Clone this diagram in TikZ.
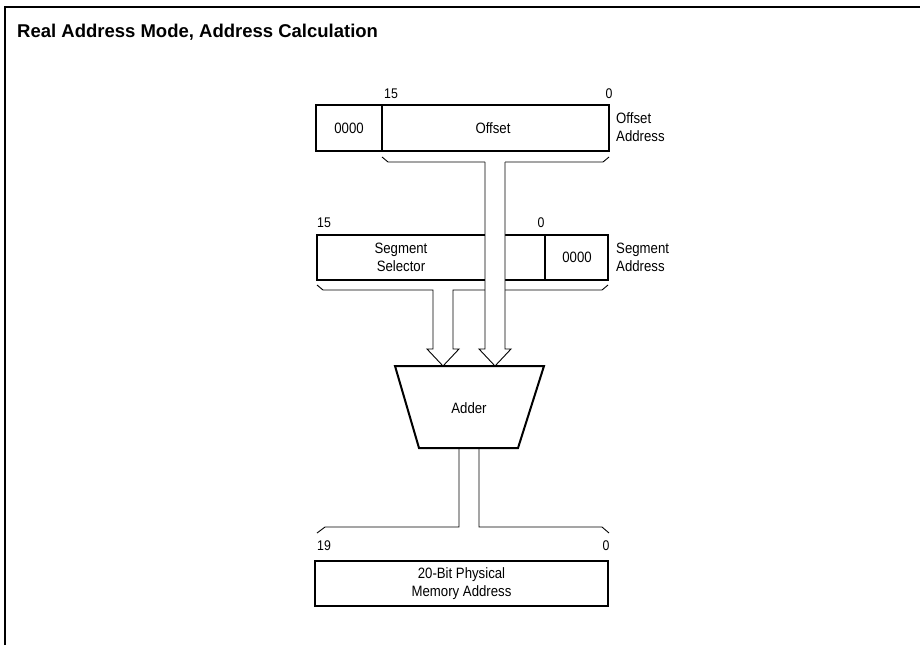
\documentclass[tikz,border=0pt]{standalone}
\usepackage{fontspec}
\setmainfont{Liberation Sans}
\newfontfamily\labfont{Liberation Sans}[FakeStretch=0.88]
\begin{document}
\begin{tikzpicture}[x=1pt,y=-1pt,
  reg/.style={draw,line width=1.8pt,minimum height=45pt,inner sep=0pt},
  lab/.style={font=\labfont\fontsize{15}{18}\selectfont,inner sep=0pt},
  bitlab/.style={font=\labfont\fontsize{14}{16}\selectfont,inner sep=0pt},
  thinline/.style={line width=0.9pt},
  thickline/.style={line width=1.8pt}]
\useasboundingbox (0,0) rectangle (920,645);
% frame
\draw[line width=1.4pt] (5,645) -- (5,7) -- (920,7);
\node[anchor=base west,inner sep=0pt,font=\fontsize{18.5}{22}\selectfont\bfseries] (title) at (17,37) {Real Address Mode, Address Calculation};

% offset register
\node[reg,minimum width=293pt,minimum height=46pt] (off) at (462.5,128) {};
\draw[thickline] (382,105) -- (382,151);
\node[lab] (off0) at (349,128) {0000};
\node[lab] (offt) at (493,128) {Offset};
\node[bitlab,anchor=base west] (b15a) at (384,98) {15};
\node[bitlab,anchor=base] (b0a) at (609,98) {0};
\node[lab,anchor=west,align=left] (offa) at (616,127) {Offset\\Address};
\draw[thinline] (382,157) -- (388,162) -- (485,162);
\draw[thinline] (505,162) -- (603,162) -- (609,157);

% segment register
\node[reg,minimum width=291pt] (seg) at (462.5,257.5) {};
\draw[thickline] (545,235) -- (545,280);
\node[lab,align=center] (segt) at (401,257.5) {Segment\\Selector};
\node[lab] (seg0) at (577,257.5) {0000};
\node[bitlab,anchor=base west] (b15b) at (317,227) {15};
\node[bitlab,anchor=base] (b0b) at (541,227) {0};
\node[lab,anchor=west,align=left] (sega) at (616,257) {Segment\\Address};
% segment bus with arrow
\draw[thinline] (317,285) -- (323,290) -- (433,290) -- (433,349) -- (427,349) -- (443,366)
  -- (459,349) -- (453,349) -- (453,290) -- (602,290) -- (608,285);
% offset bus with arrow (crosses over segment register)
\filldraw[thinline,fill=white] (485,162) -- (485,349) -- (479,349) -- (495,366)
  -- (511,349) -- (505,349) -- (505,162);

% adder
\draw[line width=2pt,line join=miter] (395,366) -- (544,366) -- (518,448) -- (419,448) -- cycle;
\node[lab] (add) at (469,408) {Adder};

% output bus
\draw[thinline] (317,533) -- (325,527) -- (459,527) -- (459,448);
\draw[thinline] (479,448) -- (479,527) -- (602,527) -- (609,533);

% physical address
\node[bitlab,anchor=base west] (b19) at (317,550) {19};
\node[bitlab,anchor=base] (b0c) at (606,550) {0};
\node[reg,minimum width=293pt,align=center,font=\labfont\fontsize{15}{18}\selectfont] (mem) at (461.5,583.5) {20-Bit Physical\\Memory Address};
\end{tikzpicture}
\end{document}
